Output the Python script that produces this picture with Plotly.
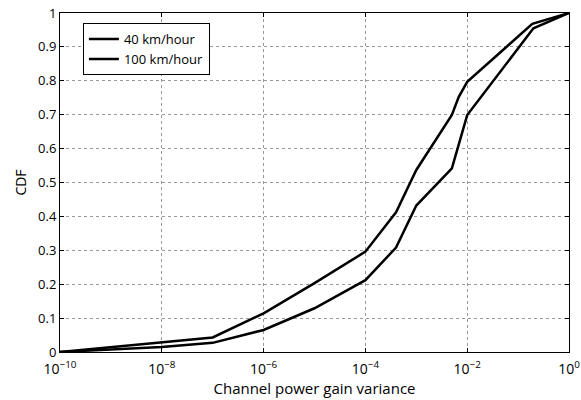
import plotly.graph_objects as go

# Data
variance_40 = [1e-10, 1e-8, 4e-8, 1e-7, 1e-6, 1e-5, 1e-4, 4e-4, 1e-3, 5e-3, 6.8e-3, 1e-2, 0.19, 1.0]
cdf_40 = [0.0, 0.028, 0.037, 0.043, 0.114, 0.203, 0.296, 0.412, 0.537, 0.699, 0.752, 0.797, 0.968, 1.0]

variance_100 = [1e-10, 1e-8, 1e-7, 1e-6, 1e-5, 1e-4, 4e-4, 1e-3, 5e-3, 1e-2, 0.2, 1.0]
cdf_100 = [0.0, 0.015, 0.027, 0.065, 0.129, 0.212, 0.308, 0.432, 0.542, 0.699, 0.955, 1.0]

series_names = ["40 km/hour", "100 km/hour"]
x_ticks = [1e-10, 1e-8, 1e-6, 1e-4, 1e-2, 1]
x_tick_labels = ["10<sup>−10</sup>", "10<sup>−8</sup>", "10<sup>−6</sup>",
                 "10<sup>−4</sup>", "10<sup>−2</sup>", "10<sup>0</sup>"]
y_ticks = [0, 0.1, 0.2, 0.3, 0.4, 0.5, 0.6, 0.7, 0.8, 0.9, 1]
y_tick_labels = ["0", "0.1", "0.2", "0.3", "0.4", "0.5", "0.6", "0.7", "0.8", "0.9", "1"]

FONT = "Open Sans"

fig = go.Figure()
fig.add_trace(go.Scatter(x=variance_40, y=cdf_40, mode="lines", name=series_names[0],
                         line=dict(color="black", width=2.5)))
fig.add_trace(go.Scatter(x=variance_100, y=cdf_100, mode="lines", name=series_names[1],
                         line=dict(color="black", width=2.5)))

fig.update_layout(
    width=581, height=400,
    margin=dict(l=60, r=12, t=13, b=48, autoexpand=False),
    paper_bgcolor="white", plot_bgcolor="white",
    font=dict(family=FONT, size=14, color="black"),
    showlegend=True,
    legend=dict(x=0.045, y=0.97, xanchor="left", yanchor="top",
                bgcolor="white", bordercolor="black", borderwidth=1,
                font=dict(family=FONT, size=13, color="black"),
                itemwidth=30, tracegroupgap=0),
    xaxis=dict(
        type="log", range=[-10, 0], tickvals=x_ticks, ticktext=x_tick_labels,
        showline=True, linecolor="black", linewidth=1, mirror="ticks",
        ticks="inside", ticklen=4, tickcolor="black", ticklabelstandoff=4,
        showgrid=True, gridcolor="#999999", griddash="dot", gridwidth=1,
        zeroline=False,
        tickfont=dict(family=FONT, size=14, color="black"),
        title=dict(text="Channel power gain variance", standoff=2,
                   font=dict(family=FONT, size=15, color="black")),
    ),
    yaxis=dict(
        range=[0, 1], tickvals=y_ticks, ticktext=y_tick_labels,
        showline=True, linecolor="black", linewidth=1, mirror="ticks",
        ticks="inside", ticklen=4, tickcolor="black",
        showgrid=True, gridcolor="#999999", griddash="dot", gridwidth=1,
        zeroline=False,
        tickfont=dict(family=FONT, size=13, color="black"),
        title=dict(text="CDF", standoff=8,
                   font=dict(family=FONT, size=14, color="black")),
    ),
)

fig.write_html("out.html")
